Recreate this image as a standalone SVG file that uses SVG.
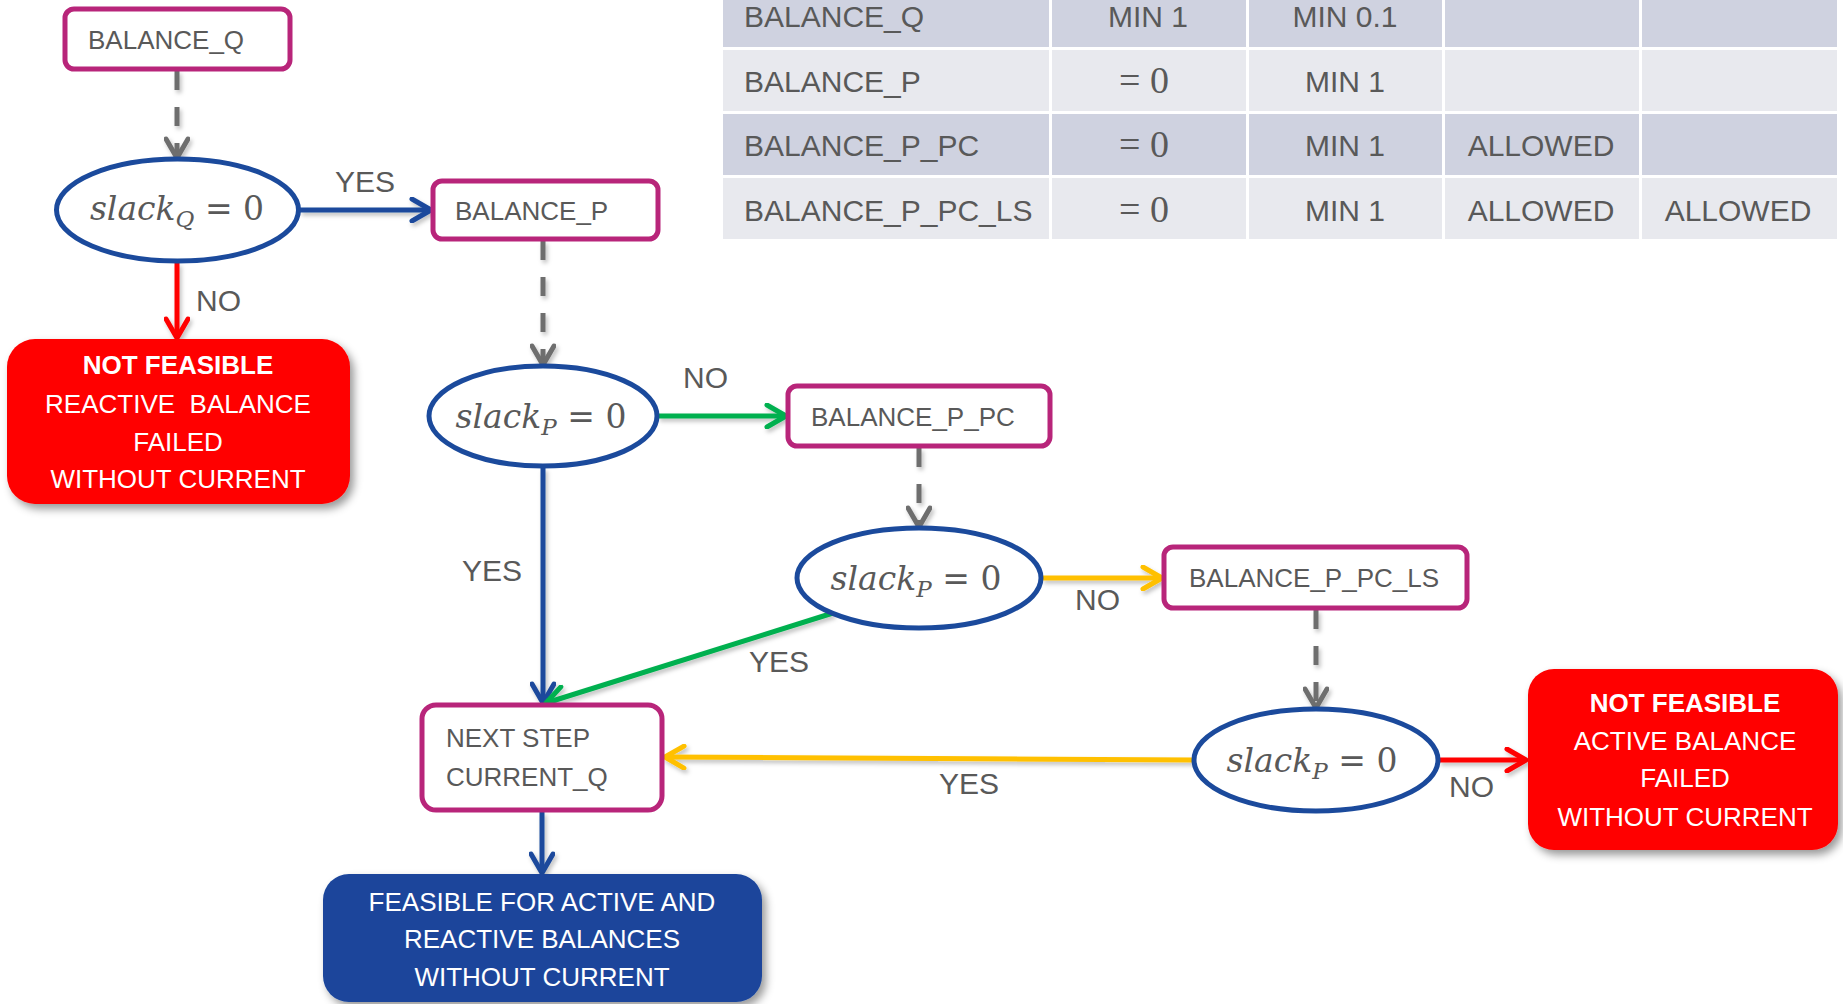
<svg xmlns="http://www.w3.org/2000/svg" width="1843" height="1004" viewBox="0 0 1843 1004">
<style>
  .box { fill: #ffffff; stroke: #B8257A; stroke-width: 5; }
  .dec { fill: #ffffff; stroke: #1B4A9C; stroke-width: 5; }
  .red { fill: #FF0000; }
  .blu { fill: #1A459B; }
  .t { font-family: "Liberation Sans", Arial, sans-serif; font-size: 26px; fill: #595959; }
  .w { font-family: "Liberation Sans", Arial, sans-serif; font-size: 26px; fill: #ffffff; text-anchor: middle; }
  .b { font-weight: bold; }
  .lbl { font-family: "Liberation Sans", Arial, sans-serif; font-size: 30px; fill: #595959; }
  .m { font-family: "DejaVu Serif", "Liberation Serif", serif; font-size: 33px; fill: #595959; text-anchor: middle; }
  .it { font-style: italic; }
  .sub { font-style: italic; font-size: 23px; }
  .tt { font-family: "Liberation Sans", Arial, sans-serif; font-size: 30px; fill: #595959; }
  .tm { font-family: "Liberation Serif", serif; font-size: 38px; fill: #595959; text-anchor: middle; }
  .dk { fill: #CFD2E0; }
  .lt { fill: #E8E9EE; }
  .ln { fill: none; stroke-width: 5; }
  .dash { fill: none; stroke: #6E6E6E; stroke-width: 5; stroke-dasharray: 19 17; }
</style>
<defs>
  <filter id="sh" filterUnits="userSpaceOnUse" x="0" y="0" width="1843" height="1004">
    <feDropShadow dx="4" dy="5" stdDeviation="4" flood-color="#000000" flood-opacity="0.4"/>
  </filter>
  <filter id="lsh" filterUnits="userSpaceOnUse" x="0" y="0" width="1843" height="1004">
    <feDropShadow dx="2" dy="3" stdDeviation="2" flood-color="#000000" flood-opacity="0.25"/>
  </filter>
  <marker id="aB" markerUnits="userSpaceOnUse" viewBox="0 0 26 26" refX="23" refY="13" markerWidth="26" markerHeight="26" orient="auto">
    <path d="M4,2 L23,13 L4,24" fill="none" stroke="#1B4A9C" stroke-width="5" stroke-linecap="round" stroke-linejoin="round"/>
  </marker>
  <marker id="aR" markerUnits="userSpaceOnUse" viewBox="0 0 26 26" refX="23" refY="13" markerWidth="26" markerHeight="26" orient="auto">
    <path d="M4,2 L23,13 L4,24" fill="none" stroke="#FF0000" stroke-width="5" stroke-linecap="round" stroke-linejoin="round"/>
  </marker>
  <marker id="aG" markerUnits="userSpaceOnUse" viewBox="0 0 26 26" refX="23" refY="13" markerWidth="26" markerHeight="26" orient="auto">
    <path d="M4,2 L23,13 L4,24" fill="none" stroke="#00B050" stroke-width="5" stroke-linecap="round" stroke-linejoin="round"/>
  </marker>
  <marker id="aY" markerUnits="userSpaceOnUse" viewBox="0 0 26 26" refX="23" refY="13" markerWidth="26" markerHeight="26" orient="auto">
    <path d="M4,2 L23,13 L4,24" fill="none" stroke="#FFC000" stroke-width="5" stroke-linecap="round" stroke-linejoin="round"/>
  </marker>
  <marker id="aK" markerUnits="userSpaceOnUse" viewBox="0 0 26 26" refX="23" refY="13" markerWidth="26" markerHeight="26" orient="auto">
    <path d="M4,2 L23,13 L4,24" fill="none" stroke="#6E6E6E" stroke-width="5" stroke-linecap="round" stroke-linejoin="round"/>
  </marker>
</defs>

<g id="table">
  <rect class="dk" x="723" y="-20" width="326" height="67"/>
  <rect class="dk" x="1052" y="-20" width="194" height="67"/>
  <rect class="dk" x="1249" y="-20" width="193" height="67"/>
  <rect class="dk" x="1445" y="-20" width="194" height="67"/>
  <rect class="dk" x="1642" y="-20" width="195" height="67"/>
  <rect class="lt" x="723" y="50" width="326" height="61"/>
  <rect class="lt" x="1052" y="50" width="194" height="61"/>
  <rect class="lt" x="1249" y="50" width="193" height="61"/>
  <rect class="lt" x="1445" y="50" width="194" height="61"/>
  <rect class="lt" x="1642" y="50" width="195" height="61"/>
  <rect class="dk" x="723" y="114" width="326" height="61"/>
  <rect class="dk" x="1052" y="114" width="194" height="61"/>
  <rect class="dk" x="1249" y="114" width="193" height="61"/>
  <rect class="dk" x="1445" y="114" width="194" height="61"/>
  <rect class="dk" x="1642" y="114" width="195" height="61"/>
  <rect class="lt" x="723" y="178" width="326" height="61"/>
  <rect class="lt" x="1052" y="178" width="194" height="61"/>
  <rect class="lt" x="1249" y="178" width="193" height="61"/>
  <rect class="lt" x="1445" y="178" width="194" height="61"/>
  <rect class="lt" x="1642" y="178" width="195" height="61"/>
  <text class="tt" x="744" y="27">BALANCE_Q</text>
  <text class="tt" x="1148" y="27" text-anchor="middle">MIN 1</text>
  <text class="tt" x="1345" y="27" text-anchor="middle">MIN 0.1</text>
  <text class="tt" x="744" y="92">BALANCE_P</text>
  <text class="tm" x="1144" y="93">= 0</text>
  <text class="tt" x="1345" y="92" text-anchor="middle">MIN 1</text>
  <text class="tt" x="744" y="156">BALANCE_P_PC</text>
  <text class="tm" x="1144" y="157">= 0</text>
  <text class="tt" x="1345" y="156" text-anchor="middle">MIN 1</text>
  <text class="tt" x="1541" y="156" text-anchor="middle">ALLOWED</text>
  <text class="tt" x="744" y="221">BALANCE_P_PC_LS</text>
  <text class="tm" x="1144" y="222">= 0</text>
  <text class="tt" x="1345" y="221" text-anchor="middle">MIN 1</text>
  <text class="tt" x="1541" y="221" text-anchor="middle">ALLOWED</text>
  <text class="tt" x="1738" y="221" text-anchor="middle">ALLOWED</text>
</g>

<g id="connectors">
  <g filter="url(#lsh)">
    <line class="dash" x1="177" y1="71" x2="177" y2="158" marker-end="url(#aK)"/>
    <line class="dash" x1="543" y1="241" x2="543" y2="365" marker-end="url(#aK)"/>
    <line class="dash" x1="919" y1="448" x2="919" y2="527" marker-end="url(#aK)"/>
    <line class="dash" x1="1316" y1="610" x2="1316" y2="708" marker-end="url(#aK)"/>
    <line class="ln" stroke="#1B4A9C" x1="300" y1="210" x2="431" y2="210" marker-end="url(#aB)"/>
    <line class="ln" stroke="#FF0000" x1="177" y1="263" x2="177" y2="338" marker-end="url(#aR)"/>
    <line class="ln" stroke="#00B050" x1="658" y1="416" x2="786" y2="416" marker-end="url(#aG)"/>
    <line class="ln" stroke="#1B4A9C" x1="543" y1="468" x2="543" y2="703" marker-end="url(#aB)"/>
    <line class="ln" stroke="#00B050" x1="833" y1="613" x2="546" y2="703" marker-end="url(#aG)"/>
    <line class="ln" stroke="#FFC000" x1="1042" y1="578" x2="1162" y2="578" marker-end="url(#aY)"/>
    <line class="ln" stroke="#FFC000" x1="1194" y1="760" x2="665" y2="757" marker-end="url(#aY)"/>
    <line class="ln" stroke="#FF0000" x1="1439" y1="760" x2="1526" y2="760" marker-end="url(#aR)"/>
    <line class="ln" stroke="#1B4A9C" x1="542" y1="812" x2="542" y2="873" marker-end="url(#aB)"/>
  </g>
  <text class="lbl" x="335" y="192">YES</text>
  <text class="lbl" x="196" y="311">NO</text>
  <text class="lbl" x="683" y="388">NO</text>
  <text class="lbl" x="462" y="581">YES</text>
  <text class="lbl" x="749" y="672">YES</text>
  <text class="lbl" x="1075" y="610">NO</text>
  <text class="lbl" x="939" y="794">YES</text>
  <text class="lbl" x="1449" y="797">NO</text>
</g>

<g id="balance_q">
  <rect class="box" x="65" y="9" width="225" height="60" rx="9"/>
  <text class="t" x="88" y="49">BALANCE_Q</text>
</g>
<g id="dec_q">
  <ellipse class="dec" cx="177.5" cy="210" rx="121" ry="51"/>
  <text class="m" x="177" y="220"><tspan class="it">slack</tspan><tspan class="sub" dy="7">Q</tspan><tspan dy="-7"> = 0</tspan></text>
</g>
<g id="fail_reactive">
  <rect class="red" x="7" y="339" width="343" height="165" rx="28" filter="url(#sh)"/>
  <text class="w b" x="178" y="374">NOT FEASIBLE</text>
  <text class="w" x="178" y="413" xml:space="preserve">REACTIVE  BALANCE</text>
  <text class="w" x="178" y="451">FAILED</text>
  <text class="w" x="178" y="488">WITHOUT CURRENT</text>
</g>
<g id="balance_p">
  <rect class="box" x="433" y="181" width="225" height="58" rx="9"/>
  <text class="t" x="455" y="220">BALANCE_P</text>
</g>
<g id="dec_p">
  <ellipse class="dec" cx="543" cy="416" rx="114" ry="50"/>
  <text class="m" x="541" y="428"><tspan class="it">slack</tspan><tspan class="sub" dy="7">P</tspan><tspan dy="-7"> = 0</tspan></text>
</g>
<g id="balance_p_pc">
  <rect class="box" x="788" y="386" width="262" height="60" rx="9"/>
  <text class="t" x="811" y="426">BALANCE_P_PC</text>
</g>
<g id="dec_p_pc">
  <ellipse class="dec" cx="919" cy="578" rx="122" ry="50"/>
  <text class="m" x="916" y="590"><tspan class="it">slack</tspan><tspan class="sub" dy="7">P</tspan><tspan dy="-7"> = 0</tspan></text>
</g>
<g id="balance_p_pc_ls">
  <rect class="box" x="1164" y="547" width="303" height="61" rx="9"/>
  <text class="t" x="1189" y="587">BALANCE_P_PC_LS</text>
</g>
<g id="dec_p_pc_ls">
  <ellipse class="dec" cx="1316" cy="760" rx="122" ry="51"/>
  <text class="m" x="1312" y="772"><tspan class="it">slack</tspan><tspan class="sub" dy="7">P</tspan><tspan dy="-7"> = 0</tspan></text>
</g>
<g id="fail_active">
  <rect class="red" x="1528" y="669" width="310" height="181" rx="26" filter="url(#sh)"/>
  <text class="w b" x="1685" y="712">NOT FEASIBLE</text>
  <text class="w" x="1685" y="750">ACTIVE BALANCE</text>
  <text class="w" x="1685" y="787">FAILED</text>
  <text class="w" x="1685" y="826">WITHOUT CURRENT</text>
</g>
<g id="next_step">
  <rect class="box" x="422" y="705" width="240" height="105" rx="14"/>
  <text class="t" x="446" y="747">NEXT STEP</text>
  <text class="t" x="446" y="786">CURRENT_Q</text>
</g>
<g id="feasible">
  <rect class="blu" x="323" y="874" width="439" height="128" rx="26" filter="url(#sh)"/>
  <text class="w" x="542" y="911">FEASIBLE FOR ACTIVE AND</text>
  <text class="w" x="542" y="948">REACTIVE BALANCES</text>
  <text class="w" x="542" y="986">WITHOUT CURRENT</text>
</g>
</svg>
